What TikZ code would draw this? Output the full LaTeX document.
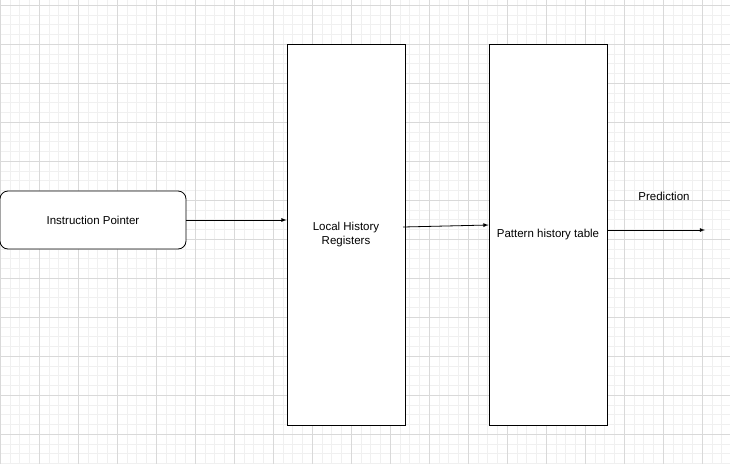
\documentclass[tikz,border=0pt]{standalone}
\usepackage{fontspec}
\setmainfont{Liberation Sans}
\begin{document}
\begin{tikzpicture}[x=1pt,y=-1pt,
  box/.style={draw,thick,fill=white,inner sep=0pt,font=\fontsize{11.5}{14}\selectfont,align=center},
  arr/.style={draw,thick,-latex}]
\useasboundingbox (0,0) rectangle (730,464);
\fill[white] (0,0) rectangle (730,464);
\foreach \i in {0,...,75} {\draw[black!6,line width=0.5pt] ({\i*9.75},0) -- ({\i*9.75},464);}
\foreach \i in {-1,...,48} {\draw[black!6,line width=0.5pt] (0,{5+\i*9.75}) -- (730,{5+\i*9.75});}
\foreach \i in {0,...,18} {\draw[black!15,line width=0.6pt] ({\i*39},0) -- ({\i*39},464);}
\foreach \i in {0,...,12} {\draw[black!15,line width=0.6pt] (0,{5+\i*39}) -- (730,{5+\i*39});}
\node[box,rounded corners=8pt,minimum width=186pt,minimum height=58pt] (ip) at (93,220) {Instruction Pointer};
\node[box,minimum width=118pt,minimum height=381pt] (lhr) at (346,234.5) {Local History\\Registers};
\node[box,minimum width=118pt,minimum height=381pt] (pht) at (548,234.5) {Pattern history table};
\coordinate (out) at (705,230);
\draw[arr] (ip.east) -- (lhr.west |- ip.east);
\draw[arr] (403,227) -- (pht.west |- 0,225);
\draw[arr] (pht.east |- out) -- (out);
\node[font=\fontsize{11.5}{14}\selectfont] (pred) at (664,196) {Prediction};
\end{tikzpicture}
\end{document}
